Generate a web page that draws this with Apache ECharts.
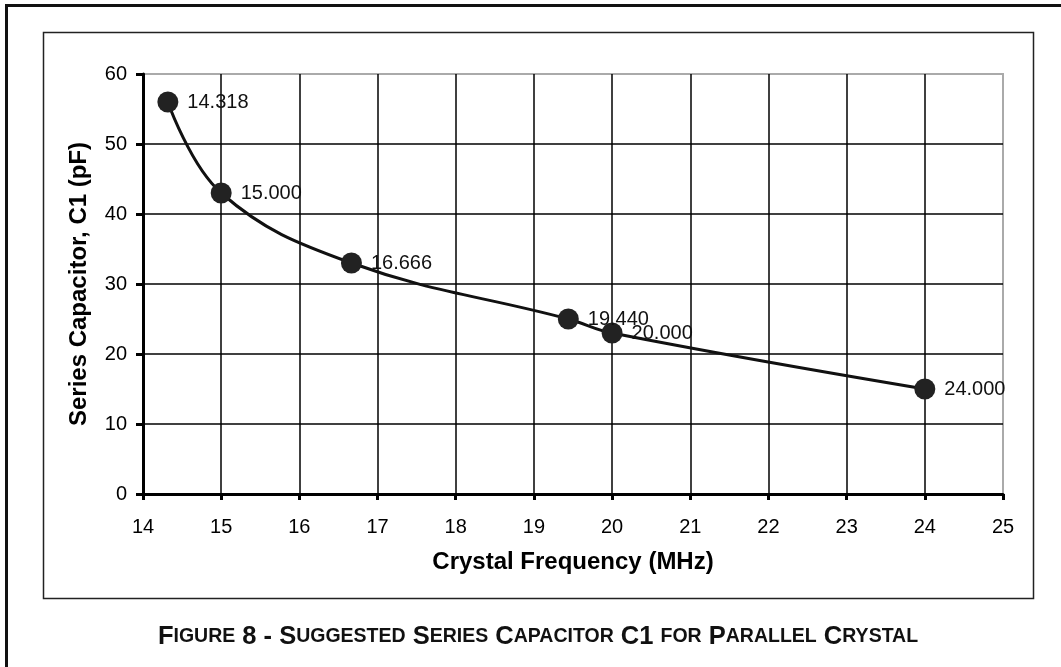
<!DOCTYPE html>
<html>
<head>
<meta charset="utf-8">
<script src="https://cdn.jsdelivr.net/npm/echarts@6/dist/echarts.min.js"></script>
<style>
html,body{margin:0;padding:0;background:#fff;}
#c{width:1061px;height:667px;}
</style>
</head>
<body>
<div id="c"></div>
<script>
const frequencies = [14.318, 15.000, 16.666, 19.440, 20.000, 24.000];
const capacitance = [56, 43, 33, 25, 23, 15];
const xTitle = 'Crystal Frequency (MHz)';
const yTitle = 'Series Capacitor, C1 (pF)';
const captionParts = [
  ['a','F'],['b','IGURE'],['a',' 8 - S'],['b','UGGESTED'],['a',' S'],['b','ERIES'],
  ['a',' C'],['b','APACITOR'],['a',' C1 '],['b','FOR'],['a',' P'],['b','ARALLEL'],
  ['a',' C'],['b','RYSTAL']
];

const FONT = '"Liberation Sans", Arial, sans-serif';
const points = frequencies.map((f, i) => [f, capacitance[i]]);

const chart = echarts.init(document.getElementById('c'), null, {renderer: 'canvas'});
chart.setOption({
  animation: false,
  backgroundColor: '#fff',
  textStyle: {fontFamily: FONT},
  grid: {
    left: 143, right: 58, top: 74, bottom: 173,
    show: true, borderColor: '#aaa', borderWidth: 2, backgroundColor: 'transparent',
    containLabel: false
  },
  xAxis: {
    type: 'value', min: 14, max: 25, interval: 1,
    name: xTitle, nameLocation: 'middle', nameGap: 56,
    nameTextStyle: {fontFamily: FONT, fontSize: 24, fontWeight: 'bold', color: '#000'},
    axisLine: {show: true, lineStyle: {color: '#000', width: 3}},
    axisTick: {show: true, inside: false, length: 6, lineStyle: {color: '#000', width: 3}},
    axisLabel: {fontFamily: FONT, fontSize: 20, color: '#000', margin: 23},
    splitLine: {show: true, showMaxLine: false, lineStyle: {color: '#000', width: 1.5}}
  },
  yAxis: {
    type: 'value', min: 0, max: 60, interval: 10,
    name: yTitle, nameLocation: 'middle', nameGap: 52, nameRotate: 90,
    nameTextStyle: {fontFamily: FONT, fontSize: 24, fontWeight: 'bold', color: '#000'},
    axisLine: {show: true, lineStyle: {color: '#000', width: 3}},
    axisTick: {show: true, inside: false, length: 7, lineStyle: {color: '#000', width: 3}},
    axisLabel: {fontFamily: FONT, fontSize: 20, color: '#000', margin: 16},
    splitLine: {show: true, showMaxLine: false, lineStyle: {color: '#000', width: 1.5}}
  },
  series: [{
    type: 'line',
    data: points,
    smooth: 0.4,
    symbol: 'circle',
    symbolSize: 21,
    lineStyle: {color: '#111', width: 3},
    itemStyle: {color: '#222', borderWidth: 0},
    label: {
      show: true, position: 'right', distance: 9,
      fontFamily: FONT, fontSize: 20, color: '#111',
      formatter: p => p.value[0].toFixed(3)
    },
    z: 5
  }],
  graphic: [
    {type: 'rect', silent: true, shape: {x: 6.5, y: 5.5, width: 1100, height: 700},
      style: {fill: 'none', stroke: '#111', lineWidth: 3}},
    {type: 'rect', silent: true, shape: {x: 43.5, y: 32.5, width: 990, height: 566},
      style: {fill: 'none', stroke: '#222', lineWidth: 1.5}},
    {type: 'text', silent: true, x: 538, y: 637,
      style: {
        text: captionParts.map(p => '{' + p[0] + '|' + p[1] + '}').join(''),
        align: 'center', verticalAlign: 'middle',
        rich: {
          a: {fontFamily: FONT, fontSize: 25.5, fontWeight: 'bold', fill: '#111'},
          b: {fontFamily: FONT, fontSize: 19.5, fontWeight: 'bold', fill: '#111'}
        }
      }}
  ]
});
</script>
</body>
</html>
